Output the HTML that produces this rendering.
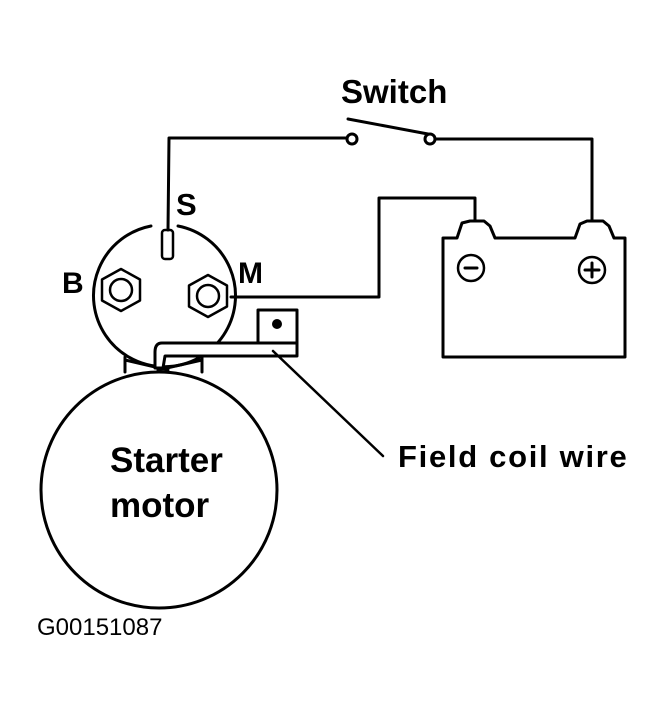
<!DOCTYPE html>
<html><head><style>
html,body{margin:0;padding:0;background:#fff;}
svg{display:block;}
text{font-family:"Liberation Sans",Arial,sans-serif;fill:#000;}
</style></head><body>
<svg width="665" height="712" viewBox="0 0 665 712" xmlns="http://www.w3.org/2000/svg">
<g fill="none" stroke="#000" stroke-width="3" stroke-linejoin="round" stroke-linecap="round">
  <polyline points="168,230 169,138 347,138"/>
  <circle cx="352" cy="139" r="5" fill="#fff"/>
  <line x1="348" y1="119" x2="428" y2="134"/>
  <circle cx="430" cy="139" r="5" fill="#fff"/>
  <polyline points="435,139 592,139 592,221"/>
  <polyline points="231,297 379,297 379,198 475,198 475,221"/>
  <path d="M443,238 L457,238 L462,223 L470,221 L484,221 L490,226 L495,238 L575,238 L580,224 L587,221 L603,221 L609,226 L614,238 L625,238 L625,357 L443,357 Z"/>
  <circle cx="471" cy="268" r="13" stroke-width="2.5"/>
  <line x1="465" y1="268" x2="477" y2="268"/>
  <circle cx="592" cy="270" r="13" stroke-width="2.5"/>
  <line x1="585" y1="270" x2="599" y2="270"/>
  <line x1="592" y1="263" x2="592" y2="277"/>
  <path d="M151,226 A71,71 0 1,0 178,226"/>
  <rect x="162" y="230" width="11" height="29" rx="3" stroke-width="2.5"/>
  <polygon points="121,269 140,279.5 140,300.5 121,311 102,300.5 102,279.5" stroke-width="2.5"/>
  <circle cx="121" cy="290" r="11" stroke-width="2.5"/>
  <polygon points="208,275 227,285.5 227,306.5 208,317 189,306.5 189,285.5" stroke-width="2.5"/>
  <circle cx="208" cy="296" r="11" stroke-width="2.5"/>
  <polyline points="125,357 125,372"/>
  <polyline points="202,357 202,372"/>
  <line x1="125" y1="360" x2="168" y2="370"/>
  <line x1="202" y1="360" x2="158" y2="370"/>
  <rect x="258" y="310" width="39" height="34" stroke-width="3"/>
  <circle cx="277" cy="324" r="3.5" fill="#000"/>
  <path d="M297,343 L162,343 Q155,343 155,352 L155,368 L163,368 L165,356 L297,356 Z" fill="#fff"/>
  <line x1="273" y1="351" x2="383" y2="456" stroke-width="2.5"/>
  <circle cx="159" cy="490" r="118"/>
</g>
<text x="341" y="103" font-size="33" font-weight="bold">Switch</text>
<text x="176" y="215" font-size="31" font-weight="bold">S</text>
<text x="62" y="293" font-size="30" font-weight="bold">B</text>
<text x="238" y="283" font-size="30" font-weight="bold">M</text>
<text x="398" y="467" font-size="31" font-weight="bold" letter-spacing="1.7">Field coil wire</text>
<text x="110" y="472" font-size="35" font-weight="bold">Starter</text>
<text x="110" y="517" font-size="35" font-weight="bold">motor</text>
<text x="37" y="635" font-size="24">G00151087</text>
</svg>
</body></html>
